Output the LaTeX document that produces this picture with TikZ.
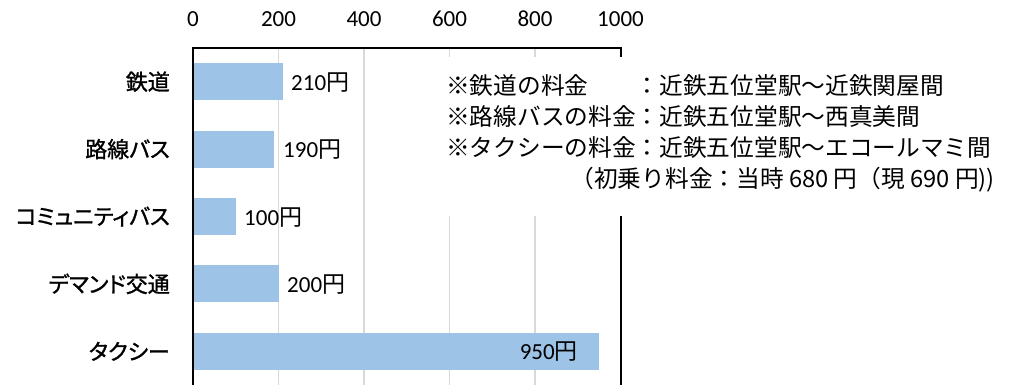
\documentclass[tikz,border=0pt]{standalone}
\usepackage{fontspec}
\newfontfamily\jp{Noto Sans CJK JP}
\newfontfamily\jpp{Noto Sans CJK JP}[RawFeature=+palt, FakeBold=1.2]
\newfontfamily\num{Carlito}
\definecolor{barblue}{HTML}{9DC3E6}
\definecolor{gridgrey}{HTML}{D9D9D9}
\begin{document}
\begin{tikzpicture}[x=1pt,y=-1pt,
  ticklbl/.style={font=\num\fontsize{23}{27}\selectfont, inner sep=0pt},
  catlbl/.style={font=\jpp\fontsize{22}{26}\selectfont, anchor=east, inner sep=0pt},
  vallbl/.style={font=\fontsize{23}{27}\selectfont, inner sep=0pt},
  notelbl/.style={font=\jp\fontsize{23.7}{28}\selectfont, inner sep=0pt},
  barfill/.style={fill=barblue},
  gridline/.style={draw=gridgrey, line width=1.6pt},
  axisline/.style={draw=black, line width=2pt, line join=miter}]
\useasboundingbox (0,0) rectangle (1010,385);
\fill[white] (0,0) rectangle (1010,385);
% tick labels
\node[ticklbl] (t0) at (193,19) {0};
\node[ticklbl] (t200) at (278.5,19) {200};
\node[ticklbl] (t400) at (364,19) {400};
\node[ticklbl] (t600) at (449.5,19) {600};
\node[ticklbl] (t800) at (535,19) {800};
\node[ticklbl] (t1000) at (620.5,19) {1000};
% gridlines
\foreach \gx in {278.5,364,449.5,535}
  \draw[gridline] (\gx,48) -- (\gx,385);
% bars
\fill[barfill] (193,63.2) rectangle (282.8,100.2);
\fill[barfill] (193,130.6) rectangle (274.2,167.6);
\fill[barfill] (193,198.0) rectangle (235.8,235.0);
\fill[barfill] (193,265.4) rectangle (278.5,302.4);
\fill[barfill] (193,332.8) rectangle (599.1,369.8);
% axes
\draw[axisline] (193,385) -- (193,48) -- (620.5,48) -- (620.5,385);
% category labels
\node[catlbl] (c1) at (170,81.7) {鉄道};
\node[catlbl] (c2) at (170,149.1) {路線バス};
\node[catlbl] (c3) at (170,216.5) {コミュニティバス};
\node[catlbl] (c4) at (170,283.9) {デマンド交通};
\node[catlbl] (c5) at (170,351.3) {タクシー};
% value labels
\node[vallbl, anchor=west] (v1) at (291,82.5) {{\num 210}{\jp 円}};
\node[vallbl, anchor=west] (v2) at (283,150) {{\num 190}{\jp 円}};
\node[vallbl, anchor=west] (v3) at (244,217.5) {{\num 100}{\jp 円}};
\node[vallbl, anchor=west] (v4) at (287,285) {{\num 200}{\jp 円}};
\node[vallbl, anchor=east] (v5) at (578,352) {{\num 950}{\jp 円}};
% note box
\fill[white] (425,57) rectangle (1005,215.5);
\node[notelbl, anchor=west] (n1) at (446,86) {※鉄道の料金　　：近鉄五位堂駅～近鉄関屋間};
\node[notelbl, anchor=west] (n2) at (446,117) {※路線バスの料金：近鉄五位堂駅～西真美間};
\node[notelbl, anchor=west] (n3) at (446,148) {※タクシーの料金：近鉄五位堂駅～エコールマミ間};
\node[notelbl, anchor=east] (n4) at (995,180) {（初乗り料金：当時 680 円（現 690 円))};
\end{tikzpicture}
\end{document}
